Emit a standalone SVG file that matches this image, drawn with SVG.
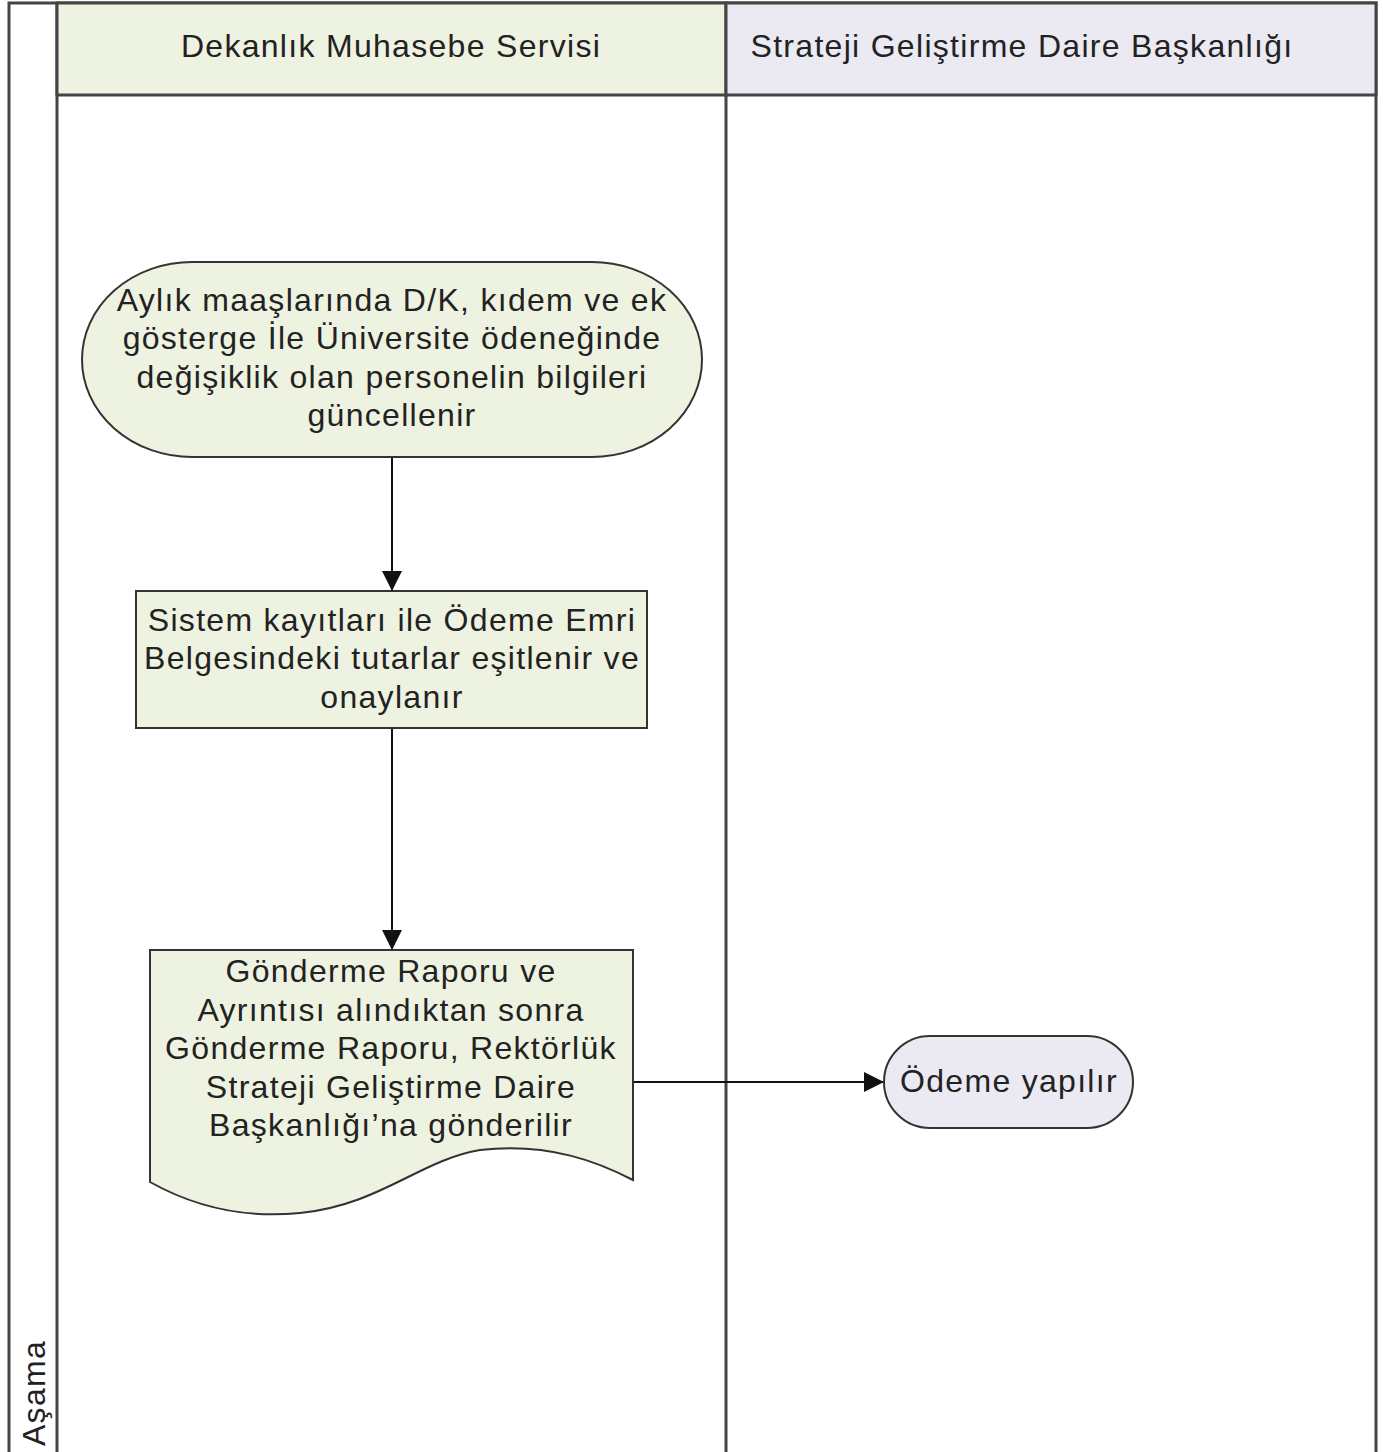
<svg xmlns="http://www.w3.org/2000/svg" width="1383" height="1452" viewBox="0 0 1383 1452">
<style>
.t{font-family:"Liberation Sans",Arial,sans-serif;font-size:32px;letter-spacing:1.3px;fill:#222;text-anchor:middle}
.lane{fill:#fff;stroke:#444;stroke-width:3}
.g{fill:#eef2e0;stroke:#333;stroke-width:2}
.p{fill:#ebe9f2;stroke:#333;stroke-width:2}
.c{stroke:#111;stroke-width:2;fill:none}
</style>
<defs>
<marker id="ahb" viewBox="0 0 20 20" refX="20" refY="10" markerWidth="22" markerHeight="20" markerUnits="userSpaceOnUse" orient="auto">
<path d="M0,0 L20,10 L0,20 Z" fill="#111"/>
</marker>
</defs>
<rect width="1383" height="1452" fill="#fff"/>
<g id="pool">
<rect x="9" y="3" width="1367" height="1455" class="lane"/>
<line x1="57" y1="3" x2="57" y2="1452" stroke="#444" stroke-width="3"/>
<rect x="57" y="3" width="669" height="92" fill="#eef2e0" stroke="#444" stroke-width="3"/>
<rect x="726" y="3" width="650" height="92" fill="#ebe9f2" stroke="#444" stroke-width="3"/>
<line x1="726" y1="95" x2="726" y2="1452" stroke="#444" stroke-width="3"/>
<text class="t" x="391" y="57">Dekanlık Muhasebe Servisi</text>
<text class="t" x="1022" y="57">Strateji Geliştirme Daire Başkanlığı</text>
<text class="t" transform="translate(45,1393) rotate(-90)">Aşama</text>
</g>
<g id="connectors">
<line class="c" x1="392" y1="457" x2="392" y2="591" marker-end="url(#ahb)"/>
<line class="c" x1="392" y1="728" x2="392" y2="950" marker-end="url(#ahb)"/>
<line class="c" x1="633" y1="1082" x2="884" y2="1082" marker-end="url(#ahb)"/>
</g>
<g id="n1">
<rect x="82" y="262" width="620" height="195" rx="110" ry="97.5" class="g"/>
<text class="t" x="392" y="311">Aylık maaşlarında D/K, kıdem ve ek</text>
<text class="t" x="392" y="349">gösterge İle Üniversite ödeneğinde</text>
<text class="t" x="392" y="388">değişiklik olan personelin bilgileri</text>
<text class="t" x="392" y="426">güncellenir</text>
</g>
<g id="n2">
<rect x="136" y="591" width="511" height="137" class="g"/>
<text class="t" x="392" y="631">Sistem kayıtları ile Ödeme Emri</text>
<text class="t" x="392" y="669">Belgesindeki tutarlar eşitlenir ve</text>
<text class="t" x="392" y="708">onaylanır</text>
</g>
<g id="n3">
<path d="M150,950 L633,950 L633,1180 C600,1163 550,1142 480,1150 C420,1160 380,1205 300,1213 C250,1218 200,1210 150,1182 Z" class="g"/>
<text class="t" x="391" y="982">Gönderme Raporu ve</text>
<text class="t" x="391" y="1021">Ayrıntısı alındıktan sonra</text>
<text class="t" x="391" y="1059">Gönderme Raporu, Rektörlük</text>
<text class="t" x="391" y="1098">Strateji Geliştirme Daire</text>
<text class="t" x="391" y="1136">Başkanlığı’na gönderilir</text>
</g>
<g id="n4">
<rect x="884" y="1036" width="249" height="92" rx="46" ry="46" class="p"/>
<text class="t" x="1009" y="1092">Ödeme yapılır</text>
</g>
</svg>
